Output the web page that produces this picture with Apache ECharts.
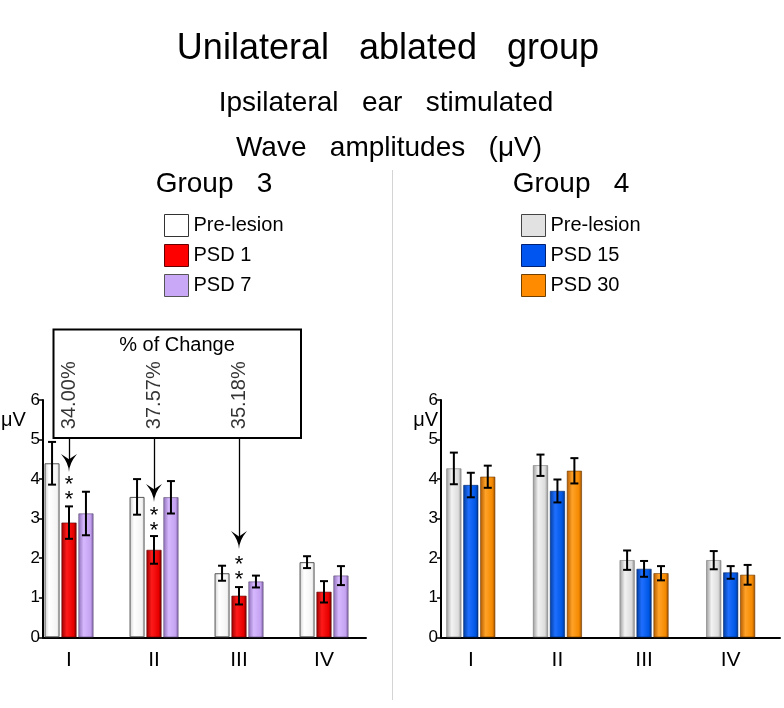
<!DOCTYPE html>
<html>
<head>
<meta charset="utf-8">
<script src="https://cdn.jsdelivr.net/npm/echarts@6/dist/echarts.min.js"></script>
<style>html,body{margin:0;padding:0;background:#fff}#c{width:784px;height:708px}</style>
</head>
<body>
<div id="c"></div>
<script>
// ---------- data ----------
const categories = ['I', 'II', 'III', 'IV'];
const yTicks = [0, 1, 2, 3, 4, 5, 6];
// Group 3
const g3PreLesion = [4.40, 3.55, 1.62, 1.90];
const g3PreLesionErr = [0.54, 0.45, 0.19, 0.15];
const g3Psd1 = [2.90, 2.21, 1.05, 1.15];
const g3Psd1Err = [0.41, 0.35, 0.22, 0.27];
const g3Psd7 = [3.13, 3.54, 1.41, 1.56];
const g3Psd7Err = [0.55, 0.41, 0.15, 0.24];
// Group 4
const g4PreLesion = [4.27, 4.35, 1.95, 1.95];
const g4PreLesionErr = [0.40, 0.27, 0.245, 0.23];
const g4Psd15 = [3.85, 3.70, 1.73, 1.64];
const g4Psd15Err = [0.31, 0.29, 0.20, 0.16];
const g4Psd30 = [4.06, 4.21, 1.62, 1.58];
const g4Psd30Err = [0.28, 0.32, 0.18, 0.25];
// annotations (Group 3, PSD 1 vs Pre-lesion)
const pctChange = ['34.00%', '37.57%', '35.18%'];
const arrowTip = [4.41, 3.65, 2.46];
const arrowTail = [5.04, 5.04, 5.04];
const starLevel = [3.66, 2.89, 1.65];
const pctLevel = [6.12, 6.12, 6.12];

// ---------- styling ----------
const FONT = 'Liberation Sans, Arial, Helvetica, sans-serif';
const BAR_W = 15;
const BAR_GAP = 0.13;
const STEP = BAR_W * (1 + BAR_GAP);
const G = echarts.graphic.LinearGradient;
function grad(stops) {
  return new G(0, 0, 1, 0, stops.map((c) => ({offset: c[0], color: c[1]})));
}
const styles = {
  whitePre: {color: grad([[0, '#cfcfcf'], [0.3, '#ffffff'], [0.8, '#f4f4f4'], [1, '#d6d6d6']]), borderColor: '#555', borderWidth: 1},
  red: {color: grad([[0, '#9a0000'], [0.35, '#ff1a1a'], [0.8, '#e80000'], [1, '#7a0000']]), borderColor: '#5a0000', borderWidth: 0.6},
  purple: {color: grad([[0, '#8f70b8'], [0.35, '#d6b8ff'], [0.8, '#c4a2f0'], [1, '#7e60a6']]), borderColor: '#5a4a70', borderWidth: 0.6},
  grayPre: {color: grad([[0, '#9c9c9c'], [0.35, '#f2f2f2'], [0.8, '#dcdcdc'], [1, '#8e8e8e']]), borderColor: '#777', borderWidth: 0.6},
  blue: {color: grad([[0, '#003c9e'], [0.35, '#1f6fff'], [0.8, '#0058e6'], [1, '#00348a']]), borderColor: '#00286a', borderWidth: 0.6},
  orange: {color: grad([[0, '#b35a00'], [0.35, '#ffa228'], [0.8, '#f58a00'], [1, '#9a4c00']]), borderColor: '#6e3a00', borderWidth: 0.6}
};
const legendStyles = {
  whitePre: {color: '#ffffff', borderColor: '#333', borderWidth: 1},
  red: {color: '#ff0000', borderColor: '#600', borderWidth: 1},
  purple: {color: '#c9a9f7', borderColor: '#555', borderWidth: 1},
  grayPre: {color: '#e2e2e2', borderColor: '#444', borderWidth: 1},
  blue: {color: '#0055f0', borderColor: '#002070', borderWidth: 1},
  orange: {color: '#ff8c00', borderColor: '#704000', borderWidth: 1}
};

const GRID_TOP = 400, GRID_H = 237.3;

function barSeries(name, values, style, xi) {
  return {
    type: 'bar', name: name, xAxisIndex: xi, yAxisIndex: xi,
    data: values, barWidth: BAR_W, barGap: (BAR_GAP * 100) + '%',
    itemStyle: style, z: 2, animation: false
  };
}
function errSeries(values, errs, slot, xi) {
  const offset = (slot - 1) * STEP;
  return {
    type: 'custom', xAxisIndex: xi, yAxisIndex: xi, z: 5, animation: false,
    data: values.map((v, i) => [i, v, errs[i]]),
    encode: {x: 0, y: 1},
    renderItem: function (params, api) {
      const i = api.value(0), m = api.value(1), e = api.value(2);
      const top = api.coord([i, m + e]);
      const bot = api.coord([i, m - e]);
      const x = top[0] + offset;
      const cap = 4;
      const st = {stroke: '#000', lineWidth: 2};
      return {type: 'group', children: [
        {type: 'line', shape: {x1: x, y1: top[1], x2: x, y2: bot[1]}, style: st},
        {type: 'line', shape: {x1: x - cap, y1: top[1], x2: x + cap, y2: top[1]}, style: st},
        {type: 'line', shape: {x1: x - cap, y1: bot[1], x2: x + cap, y2: bot[1]}, style: st}
      ]};
    }
  };
}

const arrowPath = 'path://M10,0 Q10.6,10 20,20 L10,14 L0,20 Q9.4,10 10,0 Z';

const red = barSeries('PSD 1', g3Psd1, styles.red, 0);
red.markLine = {
  silent: true, animation: false,
  symbol: [arrowPath, 'none'], symbolSize: [16, 18],
  lineStyle: {color: '#000', width: 1.3, type: 'solid'},
  label: {show: false},
  data: arrowTip.map((t, i) => [{coord: [i, t]}, {coord: [i, arrowTail[i]]}])
};
red.markPoint = {
  silent: true, animation: false, symbol: 'circle', symbolSize: 1,
  itemStyle: {color: 'rgba(0,0,0,0)'},
  label: {show: true, position: 'inside', formatter: '*\n*', fontSize: 22, lineHeight: 15, color: '#000', fontFamily: FONT},
  data: starLevel.map((s, i) => ({coord: [i, s]}))
};

const pctSeries = {
  type: 'scatter', xAxisIndex: 0, yAxisIndex: 0, symbolSize: 0, clip: false, silent: true, animation: false,
  data: pctChange.map((p, i) => ({value: [i, pctLevel[i]], name: p})),
  label: {show: true, position: 'inside', rotate: 90, formatter: p => p.name, fontSize: 20, color: '#000', fontFamily: FONT}
};

function frameY(namePad) {
  return {
    type: 'value', min: 0, max: 6, interval: 1,
    axisLine: {show: true, lineStyle: {color: '#000', width: 2}},
    axisTick: {show: true, length: 4, lineStyle: {color: '#000', width: 1.5}},
    axisLabel: {margin: 3, fontSize: 17, color: '#000', fontFamily: FONT},
    splitLine: {show: false},
    name: 'μV', nameLocation: 'end', nameGap: -20,
    nameTextStyle: {align: 'right', verticalAlign: 'middle', padding: [0, namePad, 0, 0], fontSize: 20, color: '#000', fontFamily: FONT}
  };
}
function frameX() {
  return {type: 'value', min: 0, max: 1, axisLine: {show: true, onZero: false, lineStyle: {color: '#000', width: 2}}, axisTick: {show: false}, axisLabel: {show: false}, splitLine: {show: false}};
}
function dataX(gi) {
  return {type: 'category', gridIndex: gi, data: categories, axisLine: {show: false}, axisTick: {show: false},
    axisLabel: {margin: 12, fontSize: 21, color: '#000', fontFamily: FONT}};
}
function dataY(gi) {
  return {type: 'value', gridIndex: gi, min: yTicks[0], max: yTicks[yTicks.length - 1], interval: 1, show: false};
}

const titleStyle = (size) => ({fontSize: size, fontWeight: 'normal', color: '#000', fontFamily: FONT});

const option = {
  backgroundColor: '#fff',
  animation: false,
  textStyle: {fontFamily: FONT},
  title: [
    {text: 'Unilateral   ablated   group', left: 388, textAlign: 'center', top: 31, padding: 0, textStyle: titleStyle(36)},
    {text: 'Ipsilateral   ear   stimulated', left: 386, textAlign: 'center', top: 89, padding: 0, textStyle: titleStyle(28)},
    {text: 'Wave   amplitudes   (μV)', left: 389, textAlign: 'center', top: 134, padding: 0, textStyle: titleStyle(28)},
    {text: 'Group   3', left: 214, textAlign: 'center', top: 170, padding: 0, textStyle: titleStyle(28)},
    {text: 'Group   4', left: 571, textAlign: 'center', top: 170, padding: 0, textStyle: titleStyle(28)}
  ],
  legend: [
    {left: 164, top: 214, padding: 0, orient: 'vertical', itemWidth: 24, itemHeight: 22, itemGap: 7, selectedMode: false, icon: 'rect',
      textStyle: {fontSize: 20, color: '#000', fontFamily: FONT},
      data: [
        {name: 'Pre-lesion', itemStyle: legendStyles.whitePre},
        {name: 'PSD 1', itemStyle: legendStyles.red},
        {name: 'PSD 7', itemStyle: legendStyles.purple}
      ]},
    {left: 521, top: 214, padding: 0, orient: 'vertical', itemWidth: 24, itemHeight: 22, itemGap: 7, selectedMode: false, icon: 'rect',
      textStyle: {fontSize: 20, color: '#000', fontFamily: FONT},
      data: [
        {name: 'Pre-lesion ', itemStyle: legendStyles.grayPre},
        {name: 'PSD 15', itemStyle: legendStyles.blue},
        {name: 'PSD 30', itemStyle: legendStyles.orange}
      ]}
  ],
  grid: [
    {left: 26.5, width: 340, top: GRID_TOP, height: GRID_H},
    {left: 42, width: 324, top: GRID_TOP, height: GRID_H},
    {left: 427.5, width: 346.5, top: GRID_TOP, height: GRID_H},
    {left: 441, width: 339, top: GRID_TOP, height: GRID_H}
  ],
  xAxis: [dataX(0), Object.assign(frameX(), {gridIndex: 1}), dataX(2), Object.assign(frameX(), {gridIndex: 3})],
  yAxis: [dataY(0), Object.assign(frameY(17), {gridIndex: 1}), dataY(2), Object.assign(frameY(3), {gridIndex: 3})],
  graphic: [
    {type: 'line', shape: {x1: 392.5, y1: 170, x2: 392.5, y2: 700}, style: {stroke: '#d4d4d4', lineWidth: 1}, silent: true},
    {type: 'rect', shape: {x: 53.5, y: 329.5, width: 247.5, height: 108.5}, style: {fill: 'rgba(0,0,0,0)', stroke: '#000', lineWidth: 2}, z: 10, silent: true},
    {type: 'text', x: 177, y: 345, style: {text: '% of Change', fontSize: 20, fill: '#000', font: '20px ' + FONT, textAlign: 'center', textVerticalAlign: 'middle'}, z: 10, silent: true}
  ],
  series: [
    barSeries('Pre-lesion', g3PreLesion, styles.whitePre, 0),
    red,
    barSeries('PSD 7', g3Psd7, styles.purple, 0),
    errSeries(g3PreLesion, g3PreLesionErr, 0, 0),
    errSeries(g3Psd1, g3Psd1Err, 1, 0),
    errSeries(g3Psd7, g3Psd7Err, 2, 0),
    pctSeries,
    barSeries('Pre-lesion ', g4PreLesion, styles.grayPre, 2),
    barSeries('PSD 15', g4Psd15, styles.blue, 2),
    barSeries('PSD 30', g4Psd30, styles.orange, 2),
    errSeries(g4PreLesion, g4PreLesionErr, 0, 2),
    errSeries(g4Psd15, g4Psd15Err, 1, 2),
    errSeries(g4Psd30, g4Psd30Err, 2, 2)
  ]
};
const chart = echarts.init(document.getElementById('c'), null, {renderer: 'canvas'});
chart.setOption(option);
</script>
</body>
</html>
